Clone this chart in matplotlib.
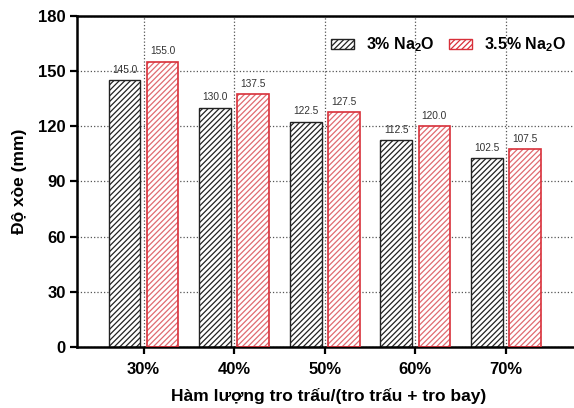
import matplotlib.pyplot as plt
import numpy as np
from matplotlib.patches import Patch

plt.rcParams['font.family'] = ['Liberation Sans', 'DejaVu Sans']
plt.rcParams['mathtext.fontset'] = 'custom'
plt.rcParams['mathtext.rm'] = 'Liberation Sans:bold'
plt.rcParams['mathtext.bf'] = 'Liberation Sans:bold'
plt.rcParams['mathtext.it'] = 'Liberation Sans:bold'
plt.rcParams['hatch.linewidth'] = 0.9

categories = ['30%', '40%', '50%', '60%', '70%']
na3 = [145.0, 130.0, 122.5, 112.5, 102.5]
na35 = [155.0, 137.5, 127.5, 120.0, 107.5]
series_labels = ['3% Na$_2$O', '3.5% Na$_2$O']

x = np.arange(len(categories))
w = 0.35
off = 0.21

fig = plt.figure(figsize=(5.74, 4.08), dpi=100)
ax = fig.add_axes([0.134, 0.1495, 0.876, 0.8115])

ax.grid(True, linestyle=':', color='#555555', linewidth=0.9, zorder=0)
ax.set_axisbelow(True)

# black series
ax.bar(x - off, na3, w, color='white', edgecolor='#222222', hatch='//////',
       linewidth=1.0, zorder=2)
# red series: light hatch + darker outline
ax.bar(x + off, na35, w, color='white', edgecolor='#e06a70', hatch='//////',
       linewidth=0, zorder=2)
ax.bar(x + off, na35, w, fill=False, edgecolor='#d8303a', linewidth=1.2, zorder=3)

for xi, v in zip(x - off, na3):
    ax.text(xi, v + 3, f'{v:.1f}', ha='center', va='bottom', fontsize=7.3, color='#333333')
for xi, v in zip(x + off, na35):
    ax.text(xi, v + 3, f'{v:.1f}', ha='center', va='bottom', fontsize=7.3, color='#333333')

ax.set_xlim(-0.736, 4.815)
ax.set_ylim(0, 180)
ax.set_yticks(np.arange(0, 181, 30))
ax.set_xticks(x)
ax.set_xticklabels(categories)

for lbl in ax.get_xticklabels() + ax.get_yticklabels():
    lbl.set_fontweight('bold')
    lbl.set_fontsize(12)

ax.tick_params(axis='both', direction='out', length=5, width=1.6, pad=3)
ax.tick_params(axis='x', pad=6)
for s in ['left', 'bottom', 'top']:
    ax.spines[s].set_linewidth(1.8)
ax.spines['right'].set_visible(False)

ax.set_ylabel('Độ xòe (mm)', fontsize=12.5, fontweight='bold', labelpad=8)
ax.set_xlabel('Hàm lượng tro trấu/(tro trấu + tro bay)', fontsize=12.5,
              fontweight='bold', labelpad=8)

h1 = Patch(facecolor='white', edgecolor='#222222', hatch='//////', linewidth=1.0)
h2 = Patch(facecolor='white', edgecolor='#d8303a', hatch='//////', linewidth=1.0)
ax.legend([h1, h2], series_labels, loc='upper right', bbox_to_anchor=(1.002, 0.985),
          ncol=2, frameon=False, prop={'weight': 'bold', 'size': 11.5},
          handlelength=1.4, handleheight=0.6, columnspacing=0.9, handletextpad=0.8)

fig.savefig('out.png', dpi=100)
